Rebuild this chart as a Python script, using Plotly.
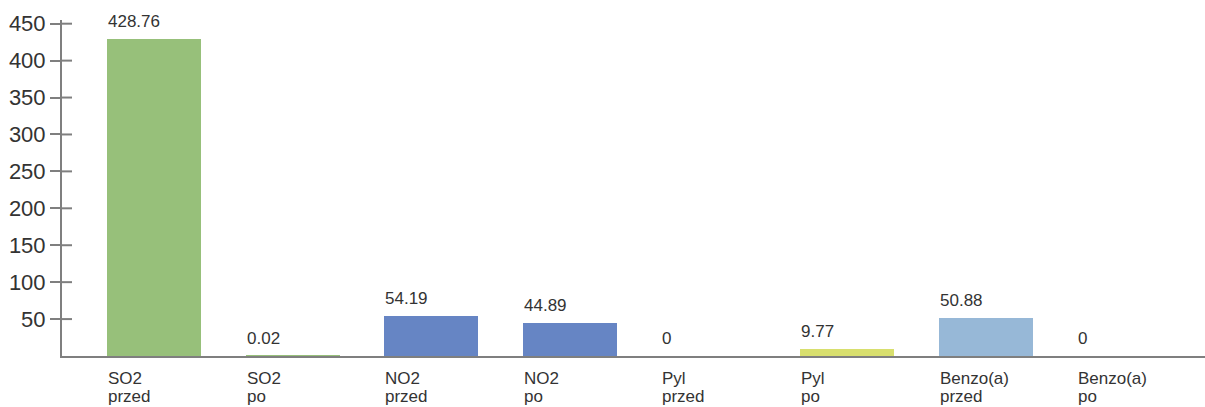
import plotly.graph_objects as go

categories_top = ["SO2", "SO2", "NO2", "NO2", "Pyl", "Pyl", "Benzo(a)", "Benzo(a)"]
categories_bottom = ["przed", "po", "przed", "po", "przed", "po", "przed", "po"]
values = [428.76, 0.02, 54.19, 44.89, 0, 9.77, 50.88, 0]
value_labels = ["428.76", "0.02", "54.19", "44.89", "0", "9.77", "50.88", "0"]
colors = ["#97C07A", "#97C07A", "#6685C4", "#6685C4", "#D8DF6E", "#D8DF6E", "#97B8D7", "#97B8D7"]
y_ticks = [50, 100, 150, 200, 250, 300, 350, 400, 450]

BAR_W = 0.678
AXIS_COLOR = "#7f7f7f"
TEXT_COLOR = "#333333"
FONT = "Liberation Sans, Arial, sans-serif"

xs = list(range(len(values)))

fig = go.Figure()
fig.add_trace(go.Bar(
    x=xs, y=values, width=BAR_W,
    marker=dict(color=colors, line=dict(width=0)),
    hoverinfo="skip",
))

annotations = []
for i, (v, lab) in enumerate(zip(values, value_labels)):
    annotations.append(dict(
        x=i - BAR_W / 2, y=v, xref="x", yref="y",
        text=lab, showarrow=False, xanchor="left", yanchor="bottom",
        yshift=6, xshift=-1,
        font=dict(family=FONT, size=17, color=TEXT_COLOR),
    ))
    annotations.append(dict(
        x=i - BAR_W / 2, y=0, xref="x", yref="paper",
        text=categories_top[i], showarrow=False, xanchor="left", yanchor="top",
        yshift=-11, xshift=-1,
        font=dict(family=FONT, size=17, color=TEXT_COLOR),
    ))
    annotations.append(dict(
        x=i - BAR_W / 2, y=0, xref="x", yref="paper",
        text=categories_bottom[i], showarrow=False, xanchor="left", yanchor="top",
        yshift=-29, xshift=-1,
        font=dict(family=FONT, size=17, color=TEXT_COLOR),
    ))

shapes = []
for t in y_ticks:
    shapes.append(dict(
        type="line", xref="paper", yref="y", xsizemode="pixel", xanchor=0,
        x0=0, x1=10, y0=t, y1=t,
        line=dict(color=AXIS_COLOR, width=2),
    ))

fig.update_layout(
    width=1205, height=407,
    margin=dict(l=62, r=0, t=20, b=51),
    paper_bgcolor="white", plot_bgcolor="white",
    showlegend=False,
    bargap=0,
    annotations=annotations,
    shapes=shapes,
    xaxis=dict(
        range=[-0.664, 7.583], showgrid=False, zeroline=False,
        showline=True, linecolor=AXIS_COLOR, linewidth=2,
        showticklabels=False, ticks="",
    ),
    yaxis=dict(
        range=[0, 455], showgrid=False, zeroline=False,
        showline=True, linecolor=AXIS_COLOR, linewidth=2,
        tickvals=y_ticks, ticktext=[str(t) for t in y_ticks],
        ticks="outside", ticklen=10, tickwidth=2, tickcolor=AXIS_COLOR,
        tickfont=dict(family=FONT, size=22, color=TEXT_COLOR),
    ),
)

fig.write_html("out.html")
